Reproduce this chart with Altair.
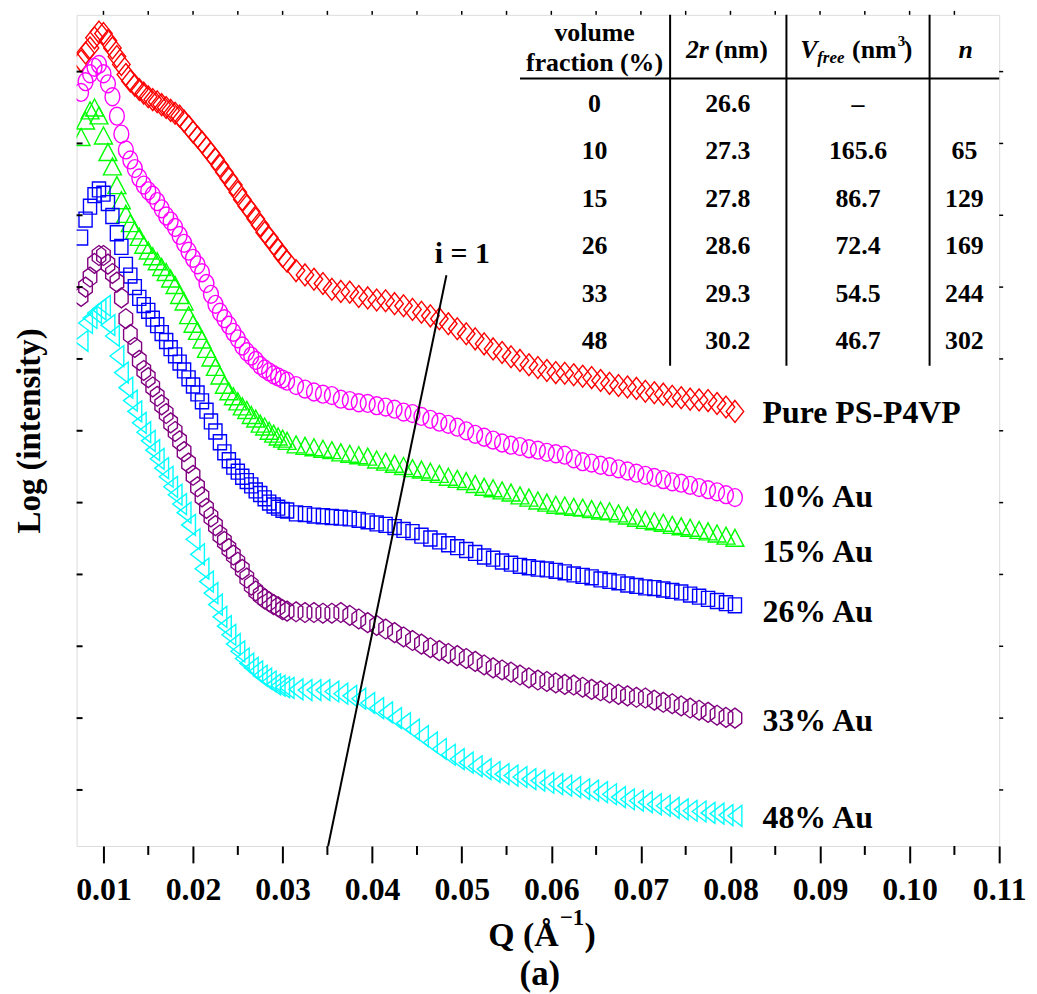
import altair as alt
import pandas as pd

# ---------------- data ----------------
# main Q grid (Å^-1)
Q = [0.0075, 0.0085, 0.0095, 0.0105, 0.0115, 0.0125, 0.0135, 0.0145, 0.0155, 0.0165,
     0.0175, 0.0185, 0.0195, 0.0205, 0.0215, 0.0225, 0.0235, 0.0245, 0.0255, 0.0265,
     0.0275, 0.0285, 0.0295, 0.0305, 0.0315, 0.0325, 0.0335, 0.0345, 0.0355, 0.0365,
     0.0375, 0.0385, 0.0395, 0.0405, 0.0415, 0.0425, 0.0435, 0.0445, 0.0455, 0.0465,
     0.0475, 0.0485, 0.0495, 0.0505, 0.0515, 0.0525, 0.0535, 0.0545, 0.0555, 0.0565,
     0.0575, 0.0585, 0.0595, 0.0605, 0.0615, 0.0625, 0.0635, 0.0645, 0.0655, 0.0665,
     0.0675, 0.0685, 0.0695, 0.0705, 0.0715, 0.0725, 0.0735, 0.0745, 0.0755, 0.0765,
     0.0775, 0.0785, 0.0795, 0.0805]

# extra points read in the steep low-Q part
Q_steep = [0.008, 0.009, 0.010, 0.011, 0.012, 0.013, 0.014, 0.015, 0.016, 0.017,
           0.018, 0.019, 0.020, 0.021, 0.022, 0.023, 0.024, 0.025, 0.026, 0.027,
           0.028, 0.029, 0.030]

pure_ps_p4vp = [10.15, 10.33, 10.55, 10.43, 10.21, 9.96, 9.81, 9.70, 9.61, 9.54,
                9.46, 9.38, 9.24, 9.09, 8.94, 8.78, 8.60, 8.42, 8.22, 8.05,
                7.86, 7.69, 7.52, 7.36, 7.23, 7.17, 7.11, 7.05, 6.97, 6.94,
                6.93, 6.87, 6.85, 6.82, 6.81, 6.77, 6.74, 6.69, 6.65, 6.60,
                6.56, 6.49, 6.42, 6.35, 6.28, 6.21, 6.14, 6.09, 6.03, 5.98,
                5.92, 5.88, 5.84, 5.81, 5.80, 5.78, 5.76, 5.74, 5.70, 5.66,
                5.63, 5.61, 5.59, 5.55, 5.53, 5.51, 5.48, 5.46, 5.44, 5.43,
                5.42, 5.38, 5.33, 5.27]
pure_ps_p4vp_steep = [10.26, 10.47, 10.53, 10.33, 10.10, 9.87, 9.75, 9.65, 9.58, 9.50,
                      9.42, 9.31, 9.16, 9.02, 8.86, 8.69, 8.51, 8.32, 8.13, 7.95,
                      7.76, 7.60, 7.43]

au_10 = [9.71, 9.97, 10.10, 9.83, 9.38, 8.91, 8.65, 8.42, 8.28, 8.09,
         7.92, 7.72, 7.50, 7.31, 7.05, 6.76, 6.56, 6.37, 6.18, 6.04,
         5.91, 5.82, 5.75, 5.69, 5.63, 5.58, 5.54, 5.51, 5.49, 5.44,
         5.42, 5.39, 5.38, 5.35, 5.33, 5.30, 5.26, 5.24, 5.20, 5.16,
         5.12, 5.09, 5.05, 5.00, 4.95, 4.91, 4.87, 4.83, 4.80, 4.78,
         4.75, 4.73, 4.70, 4.68, 4.66, 4.61, 4.57, 4.55, 4.52, 4.50,
         4.47, 4.44, 4.41, 4.38, 4.35, 4.32, 4.29, 4.27, 4.24, 4.21,
         4.18, 4.15, 4.11, 4.07]
au_10_steep = [9.86, 10.06, 9.97, 9.65, 9.13, 8.77, 8.52, 8.34, 8.19, 7.99,
               7.83, 7.61, 7.40, 7.20, 6.90, 6.65, 6.47, 6.28, 6.10, 5.98,
               5.86, 5.78, 5.72]

au_15 = [9.09, 9.46, 9.39, 8.88, 8.42, 8.02, 7.79, 7.59, 7.43, 7.28,
         7.12, 6.89, 6.61, 6.39, 6.14, 5.89, 5.64, 5.48, 5.34, 5.22,
         5.10, 5.00, 4.92, 4.86, 4.81, 4.79, 4.77, 4.75, 4.73, 4.70,
         4.68, 4.66, 4.64, 4.60, 4.57, 4.54, 4.51, 4.48, 4.46, 4.43,
         4.40, 4.36, 4.33, 4.30, 4.26, 4.22, 4.20, 4.17, 4.14, 4.10,
         4.07, 4.03, 4.00, 3.97, 3.96, 3.94, 3.93, 3.91, 3.89, 3.88,
         3.85, 3.82, 3.79, 3.76, 3.74, 3.72, 3.69, 3.67, 3.65, 3.62,
         3.60, 3.57, 3.54, 3.51]
au_15_steep = [9.32, 9.50, 9.11, 8.68, 8.21, 7.89, 7.70, 7.51, 7.36, 7.21,
               7.03, 6.80, 6.49, 6.27, 6.02, 5.77, 5.55, 5.41, 5.29, 5.17,
               5.06, 4.96, 4.89]

au_26 = [7.69, 8.12, 8.36, 8.17, 7.75, 7.31, 7.00, 6.75, 6.56, 6.36,
         6.15, 5.95, 5.73, 5.52, 5.28, 4.99, 4.70, 4.50, 4.36, 4.24,
         4.12, 4.00, 3.93, 3.89, 3.85, 3.84, 3.82, 3.81, 3.80, 3.79,
         3.78, 3.76, 3.74, 3.71, 3.69, 3.66, 3.62, 3.59, 3.54, 3.50,
         3.46, 3.42, 3.38, 3.34, 3.30, 3.25, 3.22, 3.18, 3.15, 3.12,
         3.10, 3.08, 3.07, 3.05, 3.03, 3.00, 2.98, 2.96, 2.93, 2.91,
         2.89, 2.86, 2.84, 2.82, 2.81, 2.79, 2.77, 2.75, 2.72, 2.69,
         2.66, 2.63, 2.60, 2.57]
au_26_steep = [7.94, 8.28, 8.30, 7.99, 7.56, 7.16, 6.85, 6.67, 6.47, 6.25,
               6.05, 5.84, 5.63, 5.41, 5.13, 4.84, 4.59, 4.43, 4.30, 4.17,
               4.06, 3.96, 3.90]

au_33 = [6.87, 7.14, 7.44, 7.32, 7.07, 6.56, 6.16, 5.84, 5.61, 5.36,
         5.11, 4.86, 4.55, 4.22, 3.92, 3.68, 3.46, 3.27, 3.07, 2.85,
         2.71, 2.62, 2.55, 2.49, 2.48, 2.47, 2.47, 2.46, 2.46, 2.47,
         2.43, 2.38, 2.33, 2.29, 2.24, 2.19, 2.13, 2.08, 2.03, 1.98,
         1.94, 1.90, 1.87, 1.83, 1.79, 1.74, 1.70, 1.67, 1.64, 1.60,
         1.56, 1.53, 1.51, 1.49, 1.47, 1.46, 1.43, 1.40, 1.38, 1.35,
         1.33, 1.31, 1.29, 1.28, 1.25, 1.22, 1.20, 1.17, 1.14, 1.11,
         1.08, 1.04, 1.01, 1.00]
au_33_steep = [7.00, 7.33, 7.44, 7.19, 6.85, 6.34, 5.98, 5.74, 5.48, 5.24,
               4.99, 4.71, 4.38, 4.08, 3.80, 3.55, 3.36, 3.17, 2.95, 2.77,
               2.66, 2.58, 2.51]

au_48 = [6.25, 6.57, 6.69, 6.47, 6.04, 5.60, 5.27, 4.98, 4.73, 4.48,
         4.22, 3.98, 3.69, 3.28, 2.90, 2.58, 2.28, 2.03, 1.83, 1.70,
         1.59, 1.51, 1.45, 1.42, 1.40, 1.39, 1.39, 1.39, 1.37, 1.34,
         1.31, 1.27, 1.21, 1.14, 1.08, 1.00, 0.93, 0.84, 0.75, 0.66,
         0.57, 0.49, 0.43, 0.38, 0.33, 0.29, 0.25, 0.22, 0.20, 0.18,
         0.15, 0.13, 0.10, 0.08, 0.06, 0.04, 0.01, -0.01, -0.03, -0.06,
         -0.10, -0.13, -0.15, -0.17, -0.20, -0.22, -0.25, -0.27, -0.29, -0.30,
         -0.32, -0.33, -0.35, -0.36]
au_48_steep = [6.50, 6.64, 6.74, 6.32, 5.81, 5.42, 5.11, 4.86, 4.61, 4.36,
               4.11, 3.86, 3.49, 3.08, 2.74, 2.41, 2.16, 1.93, 1.76, 1.65,
               1.55, 1.47, 1.43]

series_names = ["Pure PS-P4VP", "10% Au", "15% Au", "26% Au", "33% Au", "48% Au"]
series_values = [pure_ps_p4vp, au_10, au_15, au_26, au_33, au_48]
series_steep = [pure_ps_p4vp_steep, au_10_steep, au_15_steep, au_26_steep,
                au_33_steep, au_48_steep]

# table content
table_fraction = ["0", "10", "15", "26", "33", "48"]
table_2r = ["26.6", "27.3", "27.8", "28.6", "29.3", "30.2"]
table_vfree = ["\u2013", "165.6", "86.7", "72.4", "54.5", "46.7"]
table_n = ["", "65", "129", "169", "244", "302"]

# axis ticks
x_major = [0.01, 0.02, 0.03, 0.04, 0.05, 0.06, 0.07, 0.08, 0.09, 0.10, 0.11]
x_minor = [0.015, 0.025, 0.035, 0.045, 0.055, 0.065, 0.075, 0.085, 0.095, 0.105]
y_ticks = [0, 1, 2, 3, 4, 5, 6, 7, 8, 9, 10]

# ---------------- styles / layout ----------------
FONT = "Liberation Serif"
W, H = 928, 836
X_MIN, X_MAX = 0.007, 0.11
Y_MIN, Y_MAX = -0.78, 10.79

colors = ["#FF0000", "#FF00FF", "#00FF00", "#0000FF", "#800080", "#00FFFF"]
shapes = [
    "M0,-1L0.8,0L0,1L-0.8,0Z",                                   # diamond
    "M-0.83,0A0.83,1 0 1,0 0.83,0A0.83,1 0 1,0 -0.83,0Z",        # circle
    "M0,-0.9L0.95,0.9L-0.95,0.9Z",                               # triangle up
    "M-0.88,-1L0.88,-1L0.88,1L-0.88,1Z",                         # square
    "M0,-1L0.68,-0.5L0.68,0.5L0,1L-0.68,0.5L-0.68,-0.5Z",        # hexagon
    "M-0.66,0L0.66,-1L0.66,1Z",                                  # triangle left
]
sizes = [484, 324, 361, 225, 400, 441]


def qx(px):
    return X_MIN + px * (X_MAX - X_MIN) / W


def vy(py):
    return Y_MAX - py * (Y_MAX - Y_MIN) / H


x_scale = alt.Scale(domain=[X_MIN, X_MAX], nice=False, zero=False)
y_scale = alt.Scale(domain=[Y_MIN, Y_MAX], nice=False, zero=False)

x_axis = alt.Axis(values=x_major, format=".2f", title=None, grid=False, domain=False,
                  tickSize=17, tickWidth=2, tickColor="black",
                  labelFont=FONT, labelFontWeight="bold", labelFontSize=32,
                  labelColor="black", labelPadding=12, labelFlush=False,
                  labelOverlap=False)
y_axis = alt.Axis(title="Log (intensity)", labels=False, ticks=False, domain=False,
                  grid=False, titleFont=FONT, titleFontWeight="bold",
                  titleFontSize=33, titleColor="black", titlePadding=30)


def X(field):
    return alt.X(f"{field}:Q", scale=x_scale, axis=x_axis)


def Y(field):
    return alt.Y(f"{field}:Q", scale=y_scale, axis=y_axis)


layers = []

# data series
for name, vals, steep, col, shp, sz in zip(series_names, series_values, series_steep,
                                           colors, shapes, sizes):
    df = pd.DataFrame({"Q": Q + Q_steep, "I": vals + steep, "series": name})
    layers.append(
        alt.Chart(df).mark_point(filled=False, shape=shp, size=sz, color=col,
                                 strokeWidth=1.4, opacity=1, clip=True)
        .encode(x=X("Q"), y=Y("I"))
    )

# ticks
tick_df_x = pd.DataFrame({"q": x_minor})
layers.append(alt.Chart(tick_df_x).mark_rule(color="black", strokeWidth=2)
              .encode(x=X("q"), y=alt.value(H), y2=alt.value(H + 9)))
top_df = pd.DataFrame({"q": sorted(x_major[:-1] + x_minor)})
layers.append(alt.Chart(top_df).mark_rule(color="black", strokeWidth=1.5)
              .encode(x=X("q"), y=alt.value(-4), y2=alt.value(0)))
ytick_df = pd.DataFrame({"v": y_ticks})
layers.append(alt.Chart(ytick_df).mark_rule(color="black", strokeWidth=2)
              .encode(y=Y("v"), x=alt.value(0), x2=alt.value(6)))
layers.append(alt.Chart(ytick_df).mark_rule(color="black", strokeWidth=1.5)
              .encode(y=Y("v"), x=alt.value(W), x2=alt.value(W + 4)))

# i = 1 line
line_df = pd.DataFrame({"q1": [qx(253)], "v1": [vy(H)], "q2": [qx(372)], "v2": [vy(262)]})
layers.append(alt.Chart(line_df).mark_rule(color="black", strokeWidth=2)
              .encode(x=X("q1"), y=Y("v1"), x2="q2:Q", y2="v2:Q"))


def texts(items, size, style="normal", align="center", baseline="middle"):
    df = pd.DataFrame({"t": [i[0] for i in items],
                       "q": [qx(i[1]) for i in items],
                       "v": [vy(i[2]) for i in items]})
    return (alt.Chart(df)
            .mark_text(font=FONT, fontWeight="bold", fontStyle=style, fontSize=size,
                       align=align, baseline=baseline, color="black")
            .encode(x=X("q"), y=Y("v"), text="t:N"))


# series labels
label_py = [401, 485, 540, 601, 710, 808]
layers.append(texts([(n, 690, p) for n, p in zip(series_names, label_py)], 32, align="left"))
layers.append(texts([("i = 1", 388, 241)], 30))

# table lines
for xv in [597, 714, 858]:
    layers.append(alt.Chart(pd.DataFrame({"a": [0]})).mark_rule(color="black", strokeWidth=2)
                  .encode(x=alt.value(xv), y=alt.value(0), y2=alt.value(353)))
layers.append(alt.Chart(pd.DataFrame({"a": [0]})).mark_rule(color="black", strokeWidth=2)
              .encode(x=alt.value(446), x2=alt.value(W), y=alt.value(64)))

# table content
col_px = [521, 655, 786, 893]
row_py = [90, 137, 185, 233, 281, 328]
cells = []
for r, py in enumerate(row_py):
    for c, colvals in enumerate([table_fraction, table_2r, table_vfree, table_n]):
        if colvals[r]:
            cells.append((colvals[r], col_px[c], py))
layers.append(texts(cells, 26))

# table header
layers.append(texts([("volume", 521, 18), ("fraction (%)", 521, 48)], 26))
layers.append(texts([("2r", 636, 35)], 26, style="italic", align="right"))
layers.append(texts([("(nm)", 642, 35), ("(nm", 780, 35), (")", 832, 35)], 26, align="left"))
layers.append(texts([("V", 728, 35), ("n", 887, 35)], 26, style="italic", align="left"))
layers.append(texts([("free", 745, 43)], 17, style="italic", align="left"))
layers.append(texts([("3", 826, 26)], 15, align="left"))

# x-axis title and caption
layers.append(texts([("Q (\u00c5", 485, 937)], 34, align="right", baseline="alphabetic"))
layers.append(texts([("\u22121", 486, 915)], 23, align="left", baseline="alphabetic"))
layers.append(texts([(")", 511, 937)], 34, align="left", baseline="alphabetic"))
layers.append(texts([("(a)", 466, 976)], 35, baseline="alphabetic"))

chart = (alt.layer(*layers)
         .properties(width=W, height=H,
                     autosize=alt.AutoSizeParams(type="none"),
                     padding={"left": 69, "top": 4, "right": 30, "bottom": 146})
         .configure_view(stroke="black", strokeWidth=3)
         .configure(background="white"))

chart.save("out.html", embed_options={"renderer": "svg", "actions": False})
